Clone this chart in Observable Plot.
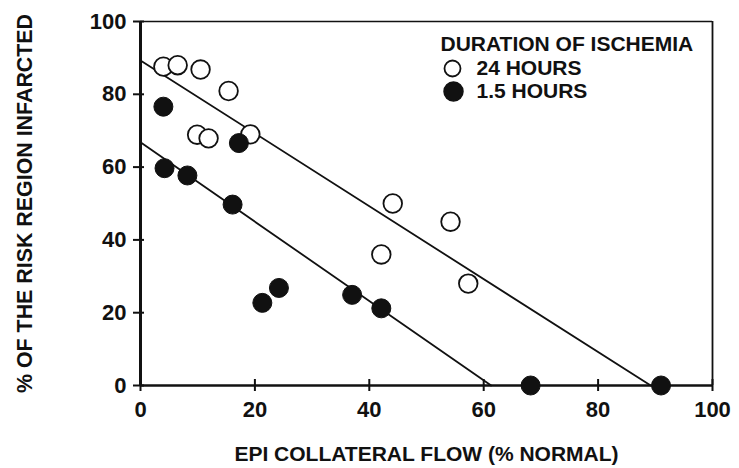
<!DOCTYPE html>
<html>
<head>
<meta charset="utf-8">
<script src="https://cdn.jsdelivr.net/npm/d3@7"></script>
<script src="https://cdn.jsdelivr.net/npm/@observablehq/plot@0.6"></script>
<style>
  html, body { margin: 0; padding: 0; background: #fff; }
  #chart svg { display: block; }
</style>
</head>
<body>
<div id="chart"></div>
<script>
// Data
const flow24 = [4, 6.5, 10.5, 15.4, 9.9, 11.9, 19.2, 44.1, 42.1, 54.2, 57.3];
const infarct24 = [87.6, 88, 86.8, 80.9, 68.9, 67.9, 69, 50, 36, 45, 28];
const flow15 = [4, 4.2, 8.2, 16.1, 17.2, 21.3, 24.2, 37, 42.1, 68.2, 91];
const infarct15 = [76.6, 59.7, 57.7, 49.7, 66.6, 22.7, 26.8, 24.9, 21.2, 0, 0];
const fit24X = [0, 89.2];
const fit24Y = [89.3, 0];
const fit15X = [0, 61.3];
const fit15Y = [66.8, 0];
const xTicks = [0, 20, 40, 60, 80, 100];
const yTicks = [0, 20, 40, 60, 80, 100];
const xTitle = "EPI COLLATERAL FLOW (% NORMAL)";
const yTitle = "% OF THE RISK REGION INFARCTED";
const legendTitle = "DURATION OF ISCHEMIA";
const legendLabels = ["24 HOURS", "1.5 HOURS"];

const pts24 = flow24.map((x, i) => ({x, y: infarct24[i]}));
const pts15 = flow15.map((x, i) => ({x, y: infarct15[i]}));
const line24 = fit24X.map((x, i) => ({x, y: fit24Y[i]}));
const line15 = fit15X.map((x, i) => ({x, y: fit15Y[i]}));

const ink = "#111";
const font = "'Liberation Sans', Arial, sans-serif";
const blank = () => "";

const chart = Plot.plot({
  width: 739,
  height: 468,
  marginLeft: 140,
  marginRight: 27,
  marginTop: 21,
  marginBottom: 83,
  style: {fontFamily: font, color: ink, background: "#fff"},
  x: {domain: [0, 100]},
  y: {domain: [0, 100]},
  marks: [
    // frame
    Plot.ruleY([100], {stroke: ink, strokeWidth: 1.6}),
    Plot.ruleX([100], {stroke: ink, strokeWidth: 1.8}),
    // axes
    Plot.axisX({ticks: xTicks, tickSize: 6, tickPadding: 10, fontSize: 22, fontWeight: "bold", stroke: ink, strokeWidth: 2, fill: ink, label: null}),
    Plot.axisX({ticks: xTicks, tickSize: 6, dy: -6, tickFormat: blank, stroke: ink, strokeWidth: 2, label: null}),
    Plot.axisY({ticks: yTicks, tickSize: 7, tickPadding: 7, fontSize: 22, fontWeight: "bold", stroke: ink, strokeWidth: 2, fill: ink, label: null}),
    Plot.axisY({ticks: yTicks, tickSize: 4, dx: 4, tickFormat: blank, stroke: ink, strokeWidth: 2, label: null}),
    Plot.ruleY([0], {stroke: ink, strokeWidth: 2.5}),
    Plot.ruleX([0], {stroke: ink, strokeWidth: 3}),
    // regression lines
    Plot.line(line24, {x: "x", y: "y", stroke: ink, strokeWidth: 1.8}),
    Plot.line(line15, {x: "x", y: "y", stroke: ink, strokeWidth: 1.8}),
    // data
    Plot.dot(pts24, {x: "x", y: "y", r: 9.3, fill: "#fff", stroke: ink, strokeWidth: 1.8}),
    Plot.dot(pts15, {x: "x", y: "y", r: 9.5, fill: ink, stroke: ink, strokeWidth: 1}),
    // axis titles
    Plot.text([xTitle], {frameAnchor: "bottom", dy: 69, fontSize: 21, fontWeight: "bold", fill: ink, lineAnchor: "middle"}),
    Plot.text([yTitle], {frameAnchor: "left", dx: -115, rotate: -90, textAnchor: "middle", fontSize: 21.4, fontWeight: "bold", fill: ink, lineAnchor: "middle"}),
    // legend
    Plot.text([legendTitle], {frameAnchor: "top-left", dx: 300, dy: 23, textAnchor: "start", lineAnchor: "middle", fontSize: 21, fontWeight: "bold", fill: ink}),
    Plot.dot([legendLabels[0]], {frameAnchor: "top-left", dx: 312, dy: 47, r: 8, fill: "#fff", stroke: ink, strokeWidth: 1.8}),
    Plot.text([legendLabels[0]], {frameAnchor: "top-left", dx: 336, dy: 47, textAnchor: "start", lineAnchor: "middle", fontSize: 21, fontWeight: "bold", fill: ink}),
    Plot.dot([legendLabels[1]], {frameAnchor: "top-left", dx: 313, dy: 70, r: 9.5, fill: ink, stroke: ink}),
    Plot.text([legendLabels[1]], {frameAnchor: "top-left", dx: 336, dy: 70, textAnchor: "start", lineAnchor: "middle", fontSize: 21, fontWeight: "bold", fill: ink})
  ]
});
document.getElementById("chart").appendChild(chart);
</script>
</body>
</html>
